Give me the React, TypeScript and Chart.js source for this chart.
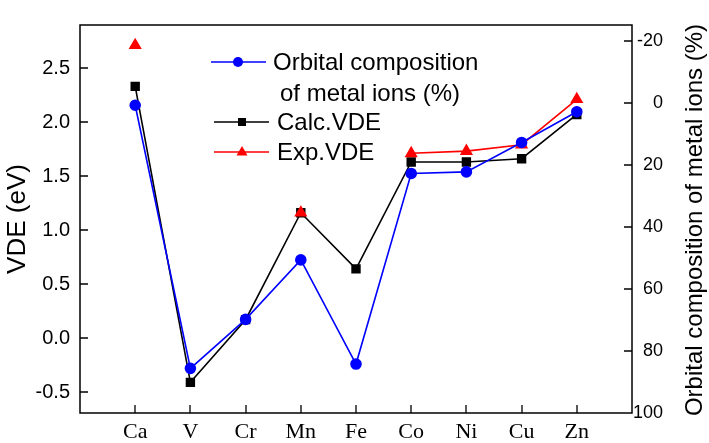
import React, { useEffect, useRef } from 'react';
import { Chart, registerables } from 'chart.js';

Chart.register(...registerables);

const categories = ['Ca', 'V', 'Cr', 'Mn', 'Fe', 'Co', 'Ni', 'Cu', 'Zn'];
const orbitalComposition = [0.7, 85.6, 69.8, 50.6, 84.2, 22.7, 22.2, 12.7, 2.8];
const calcVDE = [2.33, -0.41, 0.17, 1.16, 0.64, 1.63, 1.63, 1.66, 2.07];
const expVDE: (number | null)[] = [2.71, null, null, 1.16, null, 1.71, 1.73, 1.79, 2.21];
const vdeTicks = [-0.5, 0, 0.5, 1, 1.5, 2, 2.5];
const orbitalTicks = [-20, 0, 20, 40, 60, 80, 100];

const SANS = '"Liberation Sans", Arial, sans-serif';
const SERIF = '"Liberation Serif", "Times New Roman", serif';
const BLUE = '#0000ff';
const RED = '#ff0000';
const BLACK = '#000000';

const toPoints = (arr: (number | null)[]) => arr.map((v, i) => ({ x: i + 1, y: v }));

const decorPlugin = {
  id: 'decor',
  afterDraw(chart: any) {
    const { ctx, chartArea: a, scales } = chart;
    ctx.save();
    ctx.strokeStyle = '#000';
    ctx.lineWidth = 1.5;
    ctx.strokeRect(a.left, a.top, a.right - a.left, a.bottom - a.top);
    const T = 8;
    ctx.lineWidth = 1.3;
    ctx.beginPath();
    scales.y.ticks.forEach((t: any) => {
      const p = Math.round(scales.y.getPixelForValue(t.value));
      ctx.moveTo(a.left, p);
      ctx.lineTo(a.left + T, p);
    });
    scales.y1.ticks.forEach((t: any) => {
      const p = Math.round(scales.y1.getPixelForValue(t.value));
      if (p >= a.bottom - 1) return;
      ctx.moveTo(a.right - T, p);
      ctx.lineTo(a.right, p);
    });
    scales.x.ticks.forEach((t: any) => {
      const p = Math.round(scales.x.getPixelForValue(t.value));
      ctx.moveTo(p, a.bottom);
      ctx.lineTo(p, a.bottom - T);
    });
    ctx.stroke();

    // right axis title (reads bottom to top)
    ctx.save();
    ctx.translate(695, 220);
    ctx.rotate(-Math.PI / 2);
    ctx.font = '24px ' + SANS;
    ctx.fillStyle = '#000';
    ctx.textAlign = 'center';
    ctx.textBaseline = 'middle';
    ctx.fillText('Orbital composition of metal ions (%)', 0, 0);
    ctx.restore();

    // legend
    ctx.font = '24px ' + SANS;
    ctx.fillStyle = '#000';
    ctx.textAlign = 'left';
    ctx.textBaseline = 'middle';
    ctx.lineWidth = 1.5;
    // blue
    ctx.strokeStyle = BLUE;
    ctx.beginPath();
    ctx.moveTo(211, 62);
    ctx.lineTo(266, 62);
    ctx.stroke();
    ctx.fillStyle = BLUE;
    ctx.beginPath();
    ctx.arc(238, 62, 5, 0, Math.PI * 2);
    ctx.fill();
    ctx.fillStyle = '#000';
    ctx.fillText('Orbital composition', 273, 63);
    ctx.fillText('of metal ions (%)', 280, 94);
    // black
    ctx.strokeStyle = BLACK;
    ctx.beginPath();
    ctx.moveTo(214, 122);
    ctx.lineTo(269, 122);
    ctx.stroke();
    ctx.fillRect(238, 118, 8, 8);
    ctx.fillText('Calc.VDE', 277, 123);
    // red
    ctx.strokeStyle = RED;
    ctx.beginPath();
    ctx.moveTo(214, 152);
    ctx.lineTo(269, 152);
    ctx.stroke();
    ctx.fillStyle = RED;
    ctx.beginPath();
    ctx.moveTo(242, 146);
    ctx.lineTo(247.5, 155.5);
    ctx.lineTo(236.5, 155.5);
    ctx.closePath();
    ctx.fill();
    ctx.fillStyle = '#000';
    ctx.fillText('Exp.VDE', 277, 153);
    ctx.restore();
  },
};

export default function App() {
  const ref = useRef<HTMLCanvasElement | null>(null);

  useEffect(() => {
    if (!ref.current) return;
    const chart = new Chart(ref.current, {
      type: 'line',
      data: {
        datasets: [
          {
            label: 'Orbital composition of metal ions (%)',
            data: toPoints(orbitalComposition),
            yAxisID: 'y1',
            borderColor: BLUE,
            backgroundColor: BLUE,
            pointBackgroundColor: BLUE,
            pointBorderColor: BLUE,
            pointStyle: 'circle',
            pointRadius: 5,
            borderWidth: 1.6,
            tension: 0,
          },
          {
            label: 'Exp.VDE',
            data: toPoints(expVDE),
            yAxisID: 'y',
            borderColor: RED,
            backgroundColor: RED,
            pointBackgroundColor: RED,
            pointBorderColor: RED,
            pointStyle: 'triangle',
            pointRadius: 6,
            borderWidth: 1.6,
            spanGaps: false,
            tension: 0,
          },
          {
            label: 'Calc.VDE',
            data: toPoints(calcVDE),
            yAxisID: 'y',
            borderColor: BLACK,
            backgroundColor: BLACK,
            pointBackgroundColor: BLACK,
            pointBorderColor: BLACK,
            pointStyle: 'rect',
            pointRadius: 5.5,
            borderWidth: 1.6,
            tension: 0,
          },
        ],
      },
      options: {
        responsive: false,
        animation: false,
        layout: { padding: { top: 25, right: 46, left: 0, bottom: 0 } },
        plugins: {
          legend: { display: false },
          tooltip: { enabled: false },
        },
        scales: {
          x: {
            type: 'linear',
            min: 0,
            max: 10,
            grid: { display: false, drawTicks: false },
            border: { display: false },
            afterBuildTicks: (s: any) => {
              s.ticks = categories.map((_, i) => ({ value: i + 1 }));
            },
            afterFit: (s: any) => {
              s.height = 30;
            },
            ticks: {
              autoSkip: false,
              maxRotation: 0,
              padding: 6,
              color: '#000',
              font: { family: SERIF, size: 22 },
              callback: (v: any) => categories[Number(v) - 1] ?? '',
            },
          },
          y: {
            type: 'linear',
            position: 'left',
            min: -0.694,
            max: 2.898,
            grid: { display: false, drawTicks: false },
            border: { display: false },
            afterBuildTicks: (s: any) => {
              s.ticks = vdeTicks.map((v) => ({ value: v }));
            },
            afterFit: (s: any) => {
              s.width = 80;
            },
            ticks: {
              padding: 10,
              color: '#000',
              font: { family: SANS, size: 20 },
              callback: (v: any) => Number(v).toFixed(1),
            },
            title: {
              display: true,
              text: 'VDE (eV)',
              color: '#000',
              font: { family: SANS, size: 26 },
              padding: { top: 2, bottom: 0 },
            },
          },
          y1: {
            type: 'linear',
            position: 'right',
            reverse: true,
            min: -25.2,
            max: 100,
            grid: { display: false, drawTicks: false },
            border: { display: false },
            afterBuildTicks: (s: any) => {
              s.ticks = orbitalTicks.map((v) => ({ value: v }));
            },
            afterFit: (s: any) => {
              s.width = 31;
            },
            ticks: {
              padding: 2,
              crossAlign: 'far',
              color: '#000',
              font: { family: SANS, size: 18 },
              callback: (v: any) => String(v),
            },
          },
        },
      } as any,
      plugins: [decorPlugin],
    });
    return () => chart.destroy();
  }, []);

  return (
    <div style={{ position: 'absolute', left: 0, top: 0, width: 709, height: 443, background: '#fff' }}>
      <canvas ref={ref} width={709} height={443} style={{ display: 'block' }} />
    </div>
  );
}
